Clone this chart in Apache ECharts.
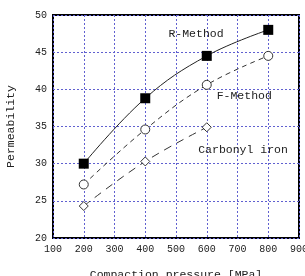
<!DOCTYPE html>
<html>
<head>
<meta charset="utf-8">
<script src="https://cdn.jsdelivr.net/npm/echarts@6/dist/echarts.min.js"></script>
<style>
    html, body { margin: 0; padding: 0; background: #fff; }
    #chart { width: 305px; height: 276px; }
</style>
</head>
<body>
<div id="chart"></div>
<script>
var pressure = [200, 400, 600, 800];
var rMethod = [30.0, 38.8, 44.5, 48.0];
var fMethod = [27.2, 34.6, 40.6, 44.5];
var carbonyl = [24.3, 30.3, 34.9];
var labelText = ['R-Method', 'F-Method', 'Carbonyl iron'];
var labelAt = [[565, 47.4], [722, 39.1], [718, 31.8]];

var font = 'Liberation Mono';
var chart = echarts.init(document.getElementById('chart'));

function pairs(xs, ys) {
    var out = [];
    for (var i = 0; i < ys.length; i++) {
        out.push([xs[i], ys[i]]);
    }
    return out;
}

var option = {
    animation: false,
    grid: {
        left: 53,
        right: 6,
        top: 15,
        bottom: 38,
        outerBoundsMode: 'none',
        containLabel: false,
        show: true,
        borderColor: '#000',
        borderWidth: 2
    },
    xAxis: {
        type: 'value',
        min: 100,
        max: 900,
        interval: 100,
        name: 'Compaction pressure [MPa]',
        nameLocation: 'middle',
        nameGap: 31,
        nameTextStyle: {fontFamily: font, fontSize: 11.5, color: '#222'},
        axisLine: {show: false},
        axisTick: {show: false},
        axisLabel: {fontFamily: font, fontSize: 10, color: '#222', margin: 6},
        splitLine: {show: true, lineStyle: {color: '#6060d0', type: [2, 2], width: 1}}
    },
    yAxis: {
        type: 'value',
        min: 20,
        max: 50,
        interval: 5,
        name: 'Permeability',
        nameLocation: 'middle',
        nameGap: 36,
        nameTextStyle: {fontFamily: font, fontSize: 11.5, color: '#222'},
        axisLine: {show: false},
        axisTick: {show: false},
        axisLabel: {fontFamily: font, fontSize: 10, color: '#222', margin: 6},
        splitLine: {show: true, lineStyle: {color: '#6060d0', type: [2, 2], width: 1}}
    },
    series: [
        {
            name: 'R-Method',
            type: 'line',
            smooth: 0.4,
            data: pairs(pressure, rMethod),
            symbol: 'rect',
            symbolSize: 10,
            itemStyle: {color: '#000'},
            lineStyle: {color: '#222', width: 1, type: 'solid'},
            z: 3
        },
        {
            name: 'F-Method',
            type: 'line',
            smooth: 0.4,
            data: pairs(pressure, fMethod),
            symbol: 'circle',
            symbolSize: 9,
            showSymbol: true,
            itemStyle: {color: '#fff', borderColor: '#333', borderWidth: 1, borderType: 'solid'},
            lineStyle: {color: '#333', width: 1, type: [5, 4]},
            z: 2
        },
        {
            name: 'Carbonyl iron',
            type: 'line',
            smooth: 0.4,
            data: pairs(pressure, carbonyl),
            symbol: 'diamond',
            symbolSize: 9,
            showSymbol: true,
            itemStyle: {color: '#fff', borderColor: '#333', borderWidth: 1, borderType: 'solid'},
            lineStyle: {color: '#333', width: 1, type: [8, 6]},
            z: 2
        }
    ]
};
chart.setOption(option);

var texts = [];
for (var i = 0; i < labelText.length; i++) {
    var p = chart.convertToPixel({gridIndex: 0}, labelAt[i]);
    texts.push({
        type: 'text',
        x: p[0],
        y: p[1],
        z: 10,
        style: {
            text: labelText[i],
            font: '11.5px "' + font + '"',
            fill: '#222',
            textAlign: 'center',
            textVerticalAlign: 'middle'
        }
    });
}
chart.setOption({graphic: texts});
</script>
</body>
</html>
